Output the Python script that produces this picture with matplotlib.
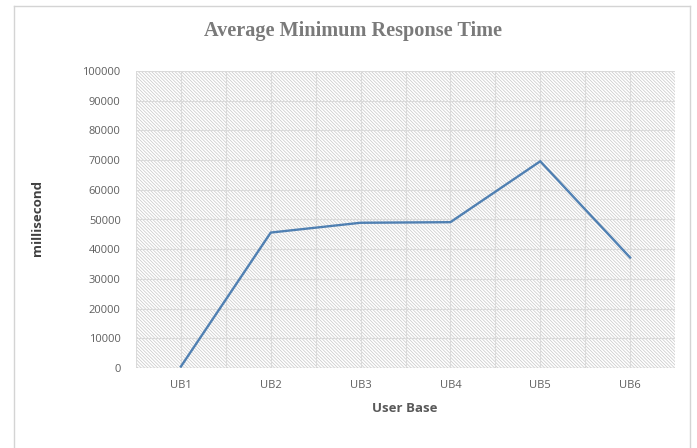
import matplotlib
matplotlib.use("Agg")
import matplotlib.pyplot as plt
from matplotlib.patches import Rectangle
from matplotlib.lines import Line2D

# Data
user_bases = ["UB1", "UB2", "UB3", "UB4", "UB5", "UB6"]
min_response_ms = [500, 45600, 48900, 49100, 69600, 37200]
y_ticks = [0, 10000, 20000, 30000, 40000, 50000, 60000, 70000, 80000, 90000, 100000]

W, H = 697, 448
fig = plt.figure(figsize=(W / 100, H / 100), dpi=100)
fig.patch.set_facecolor("white")

# Outer chart frame (left, top, right edges)
frame_color = "#d4d4d4"
x0, x1 = 14.5 / W, 689.5 / W
ytop = 1 - 6.5 / H
fig.add_artist(Line2D([x0, x0], [0, ytop], color=frame_color, lw=1.0, transform=fig.transFigure))
fig.add_artist(Line2D([x0, x1], [ytop, ytop], color=frame_color, lw=1.0, transform=fig.transFigure))
fig.add_artist(Line2D([x1, x1], [0, ytop], color=frame_color, lw=1.0, transform=fig.transFigure))

# Plot area
left, right, top, bottom = 136, 675, 71, 368
ax = fig.add_axes([left / W, 1 - bottom / H, (right - left) / W, (bottom - top) / H])
ax.set_facecolor("white")

# Hatched background of the plot area
plt.rcParams["hatch.linewidth"] = 0.55
bg = Rectangle((0, 0), 1, 1, transform=ax.transAxes, facecolor="white",
               edgecolor="#cbcbcb", hatch="\\" * 10, lw=0, zorder=0)
ax.add_patch(bg)

x = list(range(len(user_bases)))
ax.plot(x, min_response_ms, color="#5080b2", lw=1.7, solid_joinstyle="miter", zorder=3)

ax.set_xlim(-0.5, len(user_bases) - 0.5)
ax.set_ylim(0, 100000)

# Gridlines
for yv in y_ticks:
    ax.axhline(yv, color="#dadada", lw=0.8, zorder=1)
for k in range(2 * len(user_bases) + 1):
    ax.axvline(-0.5 + 0.5 * k, color="#dadada", lw=0.8, zorder=1)
ax.axhline(0, color="#cfcfcf", lw=1.0, zorder=2)

for s in ax.spines.values():
    s.set_visible(False)

tick_font = dict(family="Open Sans", size=8.0, color="#5f5f5f")
ax.set_yticks(y_ticks)
ax.set_yticklabels([str(v) for v in y_ticks], **tick_font)
ax.set_xticks(x)
ax.set_xticklabels(user_bases, **tick_font)
ax.tick_params(axis="both", length=0)
ax.tick_params(axis="y", pad=11)
ax.tick_params(axis="x", pad=9)

# Axis titles
fig.text(38 / W, 1 - 218 / H, "millisecond", rotation=90, ha="center", va="center",
         family="Open Sans", fontweight="bold", fontsize=9.5, color="#404040")
fig.text(405 / W, 1 - 408 / H, "User Base", ha="center", va="center",
         family="Open Sans", fontweight="bold", fontsize=9.5, color="#595959")

# Chart title
fig.text(353 / W, 1 - 31 / H, "Average Minimum Response Time", ha="center", va="center",
         family="Liberation Serif", fontweight="bold", fontsize=14.6, color="#7a7a7a")

fig.savefig("out.png", dpi=100, facecolor="white")
